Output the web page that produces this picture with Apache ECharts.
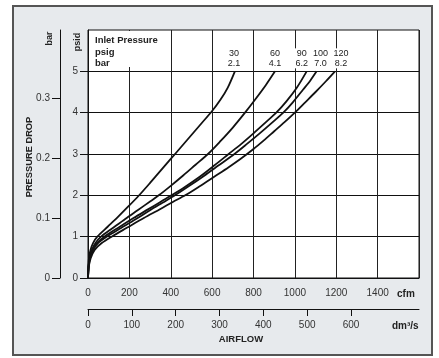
<!DOCTYPE html>
<html>
<head>
<meta charset="utf-8">
<script src="https://cdn.jsdelivr.net/npm/echarts@6/dist/echarts.min.js"></script>
<style>
  body { margin: 0; background: #fff; }
  #frame {
    position: absolute; left: 12px; top: 5px; width: 421px; height: 351px;
    box-sizing: border-box; border: 2px solid #555; background: #e7eaed;
  }
  #chart { position: absolute; left: 0; top: 0; width: 439px; height: 358px; }
</style>
</head>
<body>
<div id="frame"></div>
<div id="chart"></div>
<script>
// tick labels
const cfmTicks = [0, 200, 400, 600, 800, 1000, 1200, 1400];
const psidTicks = [0, 1, 2, 3, 4, 5];
const barTicks = [0, 0.1, 0.2, 0.3];
const dm3Ticks = [0, 100, 200, 300, 400, 500, 600];

// inlet pressure labels
const inletPsig = ["30", "60", "90", "100", "120"];
const inletBar = ["2.1", "4.1", "6.2", "7.0", "8.2"];

// [cfm, psid]
const curve30 = [[0, 0], [2, 0.3], [5, 0.5], [12, 0.68], [25, 0.85], [45, 1.0], [95, 1.24], [145, 1.48], [195, 1.73], [245, 1.99], [300, 2.3], [350, 2.59], [400, 2.88], [450, 3.17], [500, 3.46], [550, 3.75], [600, 4.04], [640, 4.31], [675, 4.6], [710, 5.0]];
const curve60 = [[0, 0], [3, 0.3], [8, 0.5], [20, 0.7], [38, 0.86], [63, 1.0], [120, 1.21], [180, 1.43], [240, 1.64], [300, 1.85], [342, 2.0], [400, 2.23], [460, 2.48], [520, 2.74], [580, 3.0], [640, 3.31], [700, 3.64], [759, 4.0], [810, 4.33], [860, 4.67], [904, 5.0]];
const curve90 = [[0, 0], [3, 0.3], [10, 0.5], [24, 0.7], [45, 0.85], [79, 1.0], [150, 1.23], [220, 1.45], [290, 1.66], [350, 1.84], [403, 2.0], [470, 2.21], [540, 2.45], [610, 2.72], [680, 3.0], [740, 3.24], [800, 3.5], [860, 3.77], [910, 4.0], [960, 4.28], [1010, 4.61], [1057, 5.0]];
const curve100 = [[0, 0], [4, 0.3], [11, 0.5], [27, 0.7], [52, 0.86], [90, 1.0], [160, 1.21], [230, 1.42], [300, 1.64], [360, 1.82], [420, 2.0], [490, 2.23], [560, 2.47], [630, 2.72], [708, 3.0], [770, 3.25], [830, 3.5], [890, 3.76], [944, 4.0], [990, 4.25], [1040, 4.56], [1075, 4.78], [1105, 5.0]];
const curve120 = [[0, 0], [4, 0.28], [13, 0.48], [32, 0.68], [65, 0.84], [114, 1.0], [190, 1.22], [270, 1.45], [350, 1.67], [410, 1.84], [470, 2.0], [540, 2.22], [610, 2.45], [680, 2.68], [740, 2.89], [800, 3.12], [850, 3.33], [900, 3.55], [950, 3.77], [1000, 4.0], [1050, 4.25], [1100, 4.5], [1150, 4.76], [1194, 5.0]];

const curves = [curve30, curve60, curve90, curve100, curve120];
const labelShift = [-1, 0, -5, 4, 6];

const FONT = "Liberation Sans";
const PSI_PER_BAR = 14.5038;
const DM3_PER_CFM = 0.47195;

const labelStyle = { fontFamily: FONT, fontSize: 10, color: "#333", formatter: (v) => String(v) };
const blackLine = { show: true, onZero: false, lineStyle: { color: "#111" } };

const series = curves.map((c, i) => ({
  type: "line",
  xAxisIndex: 0,
  yAxisIndex: 0,
  symbol: "circle",
  symbolSize: 0,
  showAllSymbol: true,
  smooth: 0.3,
  lineStyle: { color: "#111", width: 1.8 },
  emphasis: { disabled: true },
  data: c.map((p, j) =>
    j === c.length - 1
      ? {
          value: p,
          label: {
            show: true,
            position: "top",
            distance: 3,
            offset: [labelShift[i], 0],
            formatter: inletPsig[i] + "\n" + inletBar[i],
            fontFamily: FONT,
            fontSize: 9,
            lineHeight: 10,
            color: "#222",
            align: "center",
            backgroundColor: "#fff",
            padding: [0, 1],
          },
        }
      : p
  ),
}));

const chart = echarts.init(document.getElementById("chart"));
chart.setOption({
  animation: false,
  grid: {
    left: 88, top: 30, right: 20, bottom: 80,
    show: true, backgroundColor: "#fff", borderColor: "#111", borderWidth: 1,
  },
  xAxis: [
    {
      type: "value", min: 0, max: 1600, interval: 200,
      axisLine: blackLine,
      axisTick: { show: false },
      axisLabel: { ...labelStyle, margin: 10, customValues: cfmTicks },
      splitLine: { show: true, lineStyle: { color: "#222", width: 1 } },
    },
    {
      type: "value", position: "bottom", offset: 31,
      min: 0, max: 1600 * DM3_PER_CFM, interval: 100,
      axisLine: blackLine,
      axisTick: { show: true, length: 7, customValues: dm3Ticks, lineStyle: { color: "#111" } },
      axisLabel: { ...labelStyle, margin: 11, customValues: dm3Ticks },
      splitLine: { show: false },
    },
  ],
  yAxis: [
    {
      type: "value", min: 0, max: 6, interval: 1,
      axisLine: blackLine,
      axisTick: { show: true, length: 8, customValues: psidTicks, lineStyle: { color: "#111" } },
      axisLabel: { ...labelStyle, margin: 10, customValues: psidTicks },
      splitLine: { show: true, lineStyle: { color: "#111", width: 1 } },
    },
    {
      type: "value", position: "left", offset: 28,
      min: 0, max: 6 / PSI_PER_BAR,
      axisLine: blackLine,
      axisTick: { show: true, length: 8, customValues: barTicks, lineStyle: { color: "#111" } },
      axisLabel: {
        ...labelStyle, margin: 10, customValues: barTicks,
        formatter: (v) => (v === 0 ? "0" : v.toFixed(1)),
      },
      splitLine: { show: false },
    },
  ],
  graphic: [
    {
      type: "text", x: 29, y: 157, rotation: Math.PI / 2, z: 100,
      style: { text: "PRESSURE DROP", fontFamily: FONT, fontSize: 9.3, fontWeight: "bold", fill: "#222", align: "center", verticalAlign: "middle" },
    },
    {
      type: "text", x: 50, y: 38.5, rotation: Math.PI / 2, z: 100,
      style: { text: "bar", fontFamily: FONT, fontSize: 9, fontWeight: "bold", fill: "#222", align: "center", verticalAlign: "middle" },
    },
    {
      type: "text", x: 78, y: 42, rotation: Math.PI / 2, z: 100,
      style: { text: "psid", fontFamily: FONT, fontSize: 9, fontWeight: "bold", fill: "#222", align: "center", verticalAlign: "middle" },
    },
    {
      type: "rect", z: 100,
      shape: { x: 89, y: 31, width: 70, height: 36 },
      style: { fill: "#fff" },
    },
    {
      type: "text", x: 95, y: 35, z: 101,
      style: { text: "Inlet Pressure\npsig\nbar", fontFamily: FONT, fontSize: 9.5, fontWeight: "bold", lineHeight: 11.3, fill: "#222", align: "left", verticalAlign: "top" },
    },
    {
      type: "text", x: 397, y: 294, z: 100,
      style: { text: "cfm", fontFamily: FONT, fontSize: 10, fontWeight: "bold", fill: "#222", align: "left", verticalAlign: "middle" },
    },
    {
      type: "text", x: 392, y: 326, z: 100,
      style: { text: "dm³/s", fontFamily: FONT, fontSize: 10, fontWeight: "bold", fill: "#222", align: "left", verticalAlign: "middle" },
    },
    {
      type: "text", x: 241, y: 339.5, z: 100,
      style: { text: "AIRFLOW", fontFamily: FONT, fontSize: 9.5, fontWeight: "bold", fill: "#222", align: "center", verticalAlign: "middle" },
    },
  ],
  series: series,
});
</script>
</body>
</html>
